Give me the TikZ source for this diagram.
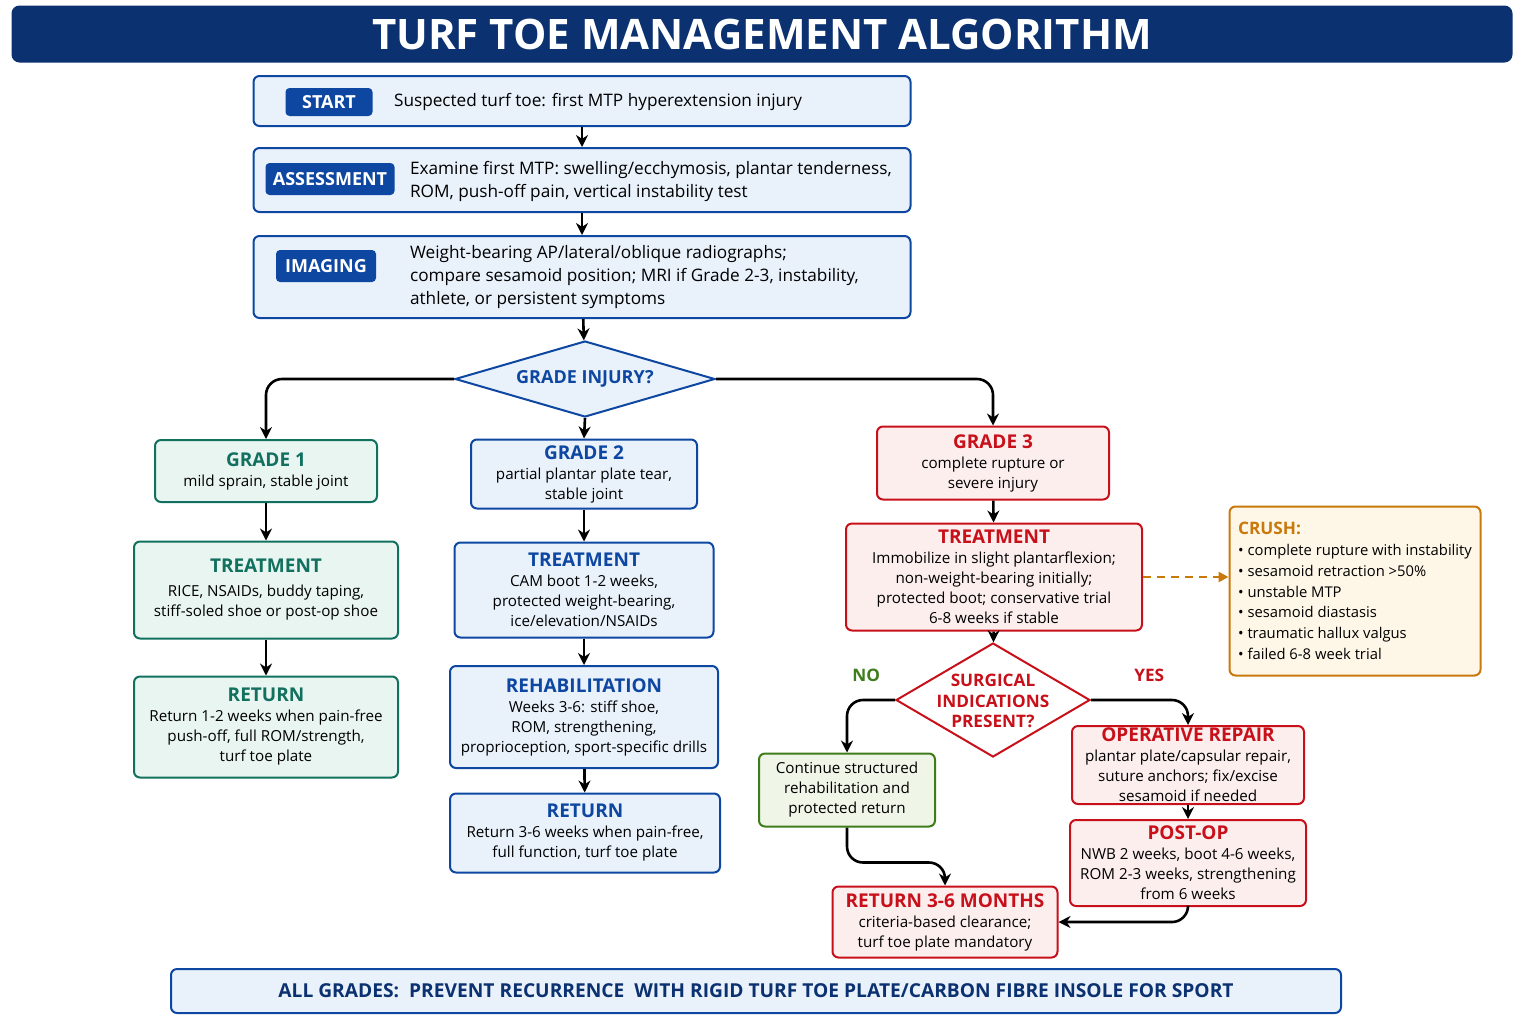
\documentclass[tikz,border=0pt]{standalone}
\usepackage{fontspec}
\setmainfont{Open Sans}
\usetikzlibrary{shapes.geometric,arrows.meta}
\definecolor{navy}{HTML}{0B3170}
\definecolor{bluec}{HTML}{0D47A1}
\definecolor{bluef}{HTML}{E9F1FB}
\definecolor{tealc}{HTML}{12705F}
\definecolor{tealf}{HTML}{E9F5F1}
\definecolor{redc}{HTML}{C8101A}
\definecolor{redf}{HTML}{FDEEEE}
\definecolor{greenc}{HTML}{3F7D1C}
\definecolor{greenf}{HTML}{EFF6E8}
\definecolor{orangec}{HTML}{C9780A}
\definecolor{orangef}{HTML}{FEF7E8}
\newcommand\hd[2]{{\color{#1}\fontsize{9.5}{12}\selectfont\bfseries #2}}
\tikzset{
  box/.style={draw, rounded corners=3pt, line width=1pt, align=center, inner sep=1pt,
    font=\fontsize{7.6}{10}\selectfont},
  bluebox/.style={box, draw=bluec, fill=bluef},
  tealbox/.style={box, draw=tealc, fill=tealf},
  redbox/.style={box, draw=redc, fill=redf},
  greenbox/.style={box, draw=greenc, fill=greenf},
  badge/.style={fill=bluec, text=white, rounded corners=2pt, font=\fontsize{9}{11}\selectfont\bfseries, inner sep=0pt},
  txt/.style={anchor=west, align=left, font=\fontsize{8.6}{11.5}\selectfont},
  arr/.style={-{Stealth[length=6pt,width=6pt]}, line width=1.3pt, rounded corners=8pt},
  dec/.style={diamond, line width=1pt, inner sep=0pt}
}
\begin{document}
\begin{tikzpicture}[x=0.5pt,y=-0.5pt]
\useasboundingbox (0,0) rectangle (1536,1024);

% title
\node[fill=navy, rounded corners=4pt, minimum width=750.5pt, minimum height=28.5pt, text=white,
  font=\fontsize{21}{24}\selectfont\bfseries] (title) at (762,34) {TURF TOE MANAGEMENT ALGORITHM};

% top boxes
\node[bluebox, minimum width=328.5pt, minimum height=25pt] (start) at (582,101) {};
\node[badge, minimum width=43.5pt, minimum height=14pt] (sb) at (329,102) {START};
\node[txt] (st) at (387,102) {Suspected turf toe: first MTP hyperextension injury};

\node[bluebox, minimum width=328.5pt, minimum height=32pt] (assess) at (582,180) {};
\node[badge, minimum width=64.5pt, minimum height=16pt] (ab) at (330,179) {ASSESSMENT};
\node[txt] (at) at (403,181) {Examine first MTP: swelling/ecchymosis, plantar tenderness,\\ROM, push-off pain, vertical instability test};

\node[bluebox, minimum width=328.5pt, minimum height=41pt] (imaging) at (582,277) {};
\node[badge, minimum width=50pt, minimum height=16pt] (ib) at (326,266) {IMAGING};
\node[txt] (it) at (403,277) {Weight-bearing AP/lateral/oblique radiographs;\\compare sesamoid position; MRI if Grade 2-3, instability,\\athlete, or persistent symptoms};

\node[dec, draw=bluec, fill=bluef, minimum width=130pt, minimum height=38pt] (grade) at (585,379) {};
\node[text=bluec, font=\fontsize{9}{11}\selectfont\bfseries] (gradet) at (585,379) {GRADE INJURY?};

% grade 1
\node[tealbox, minimum width=111pt, minimum height=31pt] (g1) at (266,471) {\hd{tealc}{GRADE 1}\\mild sprain, stable joint};
\node[tealbox, minimum width=132pt, minimum height=48.5pt] (t1) at (266,590) {\hd{tealc}{TREATMENT}\\[2pt]RICE, NSAIDs, buddy taping,\\stiff-soled shoe or post-op shoe};
\node[tealbox, minimum width=132pt, minimum height=50.5pt] (r1) at (266,727) {\hd{tealc}{RETURN}\\Return 1-2 weeks when pain-free\\push-off, full ROM/strength,\\turf toe plate};

% grade 2
\node[bluebox, minimum width=113pt, minimum height=34.5pt] (g2) at (584,474) {\hd{bluec}{GRADE 2}\\partial plantar plate tear,\\stable joint};
\node[bluebox, minimum width=129.5pt, minimum height=47.5pt] (t2) at (584,590) {\hd{bluec}{TREATMENT}\\CAM boot 1-2 weeks,\\protected weight-bearing,\\ice/elevation/NSAIDs};
\node[bluebox, minimum width=134pt, minimum height=51pt] (rh) at (584,717) {\hd{bluec}{REHABILITATION}\\Weeks 3-6: stiff shoe,\\ROM, strengthening,\\proprioception, sport-specific drills};
\node[bluebox, minimum width=135pt, minimum height=39.5pt] (r2) at (585,833) {\hd{bluec}{RETURN}\\Return 3-6 weeks when pain-free,\\full function, turf toe plate};

% grade 3
\node[redbox, minimum width=116pt, minimum height=36.5pt] (g3) at (993,463) {\hd{redc}{GRADE 3}\\complete rupture or\\severe injury};
\node[redbox, minimum width=148pt, minimum height=53.5pt] (t3) at (994,577) {\hd{redc}{TREATMENT}\\Immobilize in slight plantarflexion;\\non-weight-bearing initially;\\protected boot; conservative trial\\6-8 weeks if stable};
\node[box, draw=orangec, fill=orangef, minimum width=125.5pt, minimum height=84.5pt, align=left,
  font=\fontsize{7.4}{10.4}\selectfont] (crush) at (1355,591) {\textcolor{orangec}{\bfseries\fontsize{8.6}{10}\selectfont CRUSH:}\\
  \textbullet\ complete rupture with instability\\ \textbullet\ sesamoid retraction >50\%\\
  \textbullet\ unstable MTP\\ \textbullet\ sesamoid diastasis\\ \textbullet\ traumatic hallux valgus\\
  \textbullet\ failed 6-8 week trial};
\node[dec, draw=redc, fill=white, minimum width=97pt, minimum height=57pt] (surg) at (993,700) {};
\node[align=center, text=redc, font=\fontsize{8.6}{10.4}\selectfont\bfseries] (surgt) at (993,701) {SURGICAL\\INDICATIONS\\PRESENT?};
\node[greenbox, minimum width=88pt, minimum height=36.5pt] (cont) at (847,790) {Continue structured\\rehabilitation and\\protected return};
\node[redbox, minimum width=116pt, minimum height=39pt] (op) at (1188,765) {\hd{redc}{OPERATIVE REPAIR}\\plantar plate/capsular repair,\\suture anchors; fix/excise\\sesamoid if needed};
\node[redbox, minimum width=118pt, minimum height=43pt] (po) at (1188,863) {\hd{redc}{POST-OP}\\NWB 2 weeks, boot 4-6 weeks,\\ROM 2-3 weeks, strengthening\\from 6 weeks};
\node[redbox, minimum width=112.5pt, minimum height=35.5pt] (r3) at (945,922) {\hd{redc}{RETURN 3-6 MONTHS}\\criteria-based clearance;\\turf toe plate mandatory};

% bottom bar
\node[draw=bluec, fill=bluef, rounded corners=3pt, line width=1pt, minimum width=585pt, minimum height=22pt,
  text=navy, font=\fontsize{9.6}{11}\selectfont\bfseries] (all) at (756,991)
  {ALL GRADES:\ \ PREVENT RECURRENCE\ \ WITH RIGID TURF TOE PLATE/CARBON FIBRE INSOLE FOR SPORT};

% connectors
\draw[arr] (start) -- (assess);
\draw[arr] (assess) -- (imaging);
\draw[arr] (imaging) -- (grade);
\draw[arr] (grade.west) -| (g1.north);
\draw[arr] (grade.east) -| (g3.north);
\draw[arr] (grade.south) -- (g2.north);
\draw[arr] (g1) -- (t1);
\draw[arr] (t1) -- (r1);
\draw[arr] (g2) -- (t2);
\draw[arr] (t2) -- (rh);
\draw[arr] (rh) -- (r2);
\draw[arr] (g3) -- (t3);
\draw[arr] (t3) -- (surg);
\draw[-{Triangle[length=5pt,width=5pt]}, line width=1.2pt, orangec, dash pattern=on 4pt off 3pt] (t3.east) -- (crush.west |- t3.east);
\draw[arr] (surg.west) -| (cont.north) node[pos=0.3, above=5pt, text=greenc, font=\fontsize{8.6}{10}\selectfont\bfseries] {NO};
\draw[arr] (surg.east) -| (op.north) node[pos=0.3, above=5pt, text=redc, font=\fontsize{8.6}{10}\selectfont\bfseries] {YES};
\draw[arr] (op) -- (po);
\draw[arr] (cont.south) -- ++(0,35) -| (r3.north);
\draw[arr] (po.south) |- (r3.east);
\end{tikzpicture}
\end{document}
